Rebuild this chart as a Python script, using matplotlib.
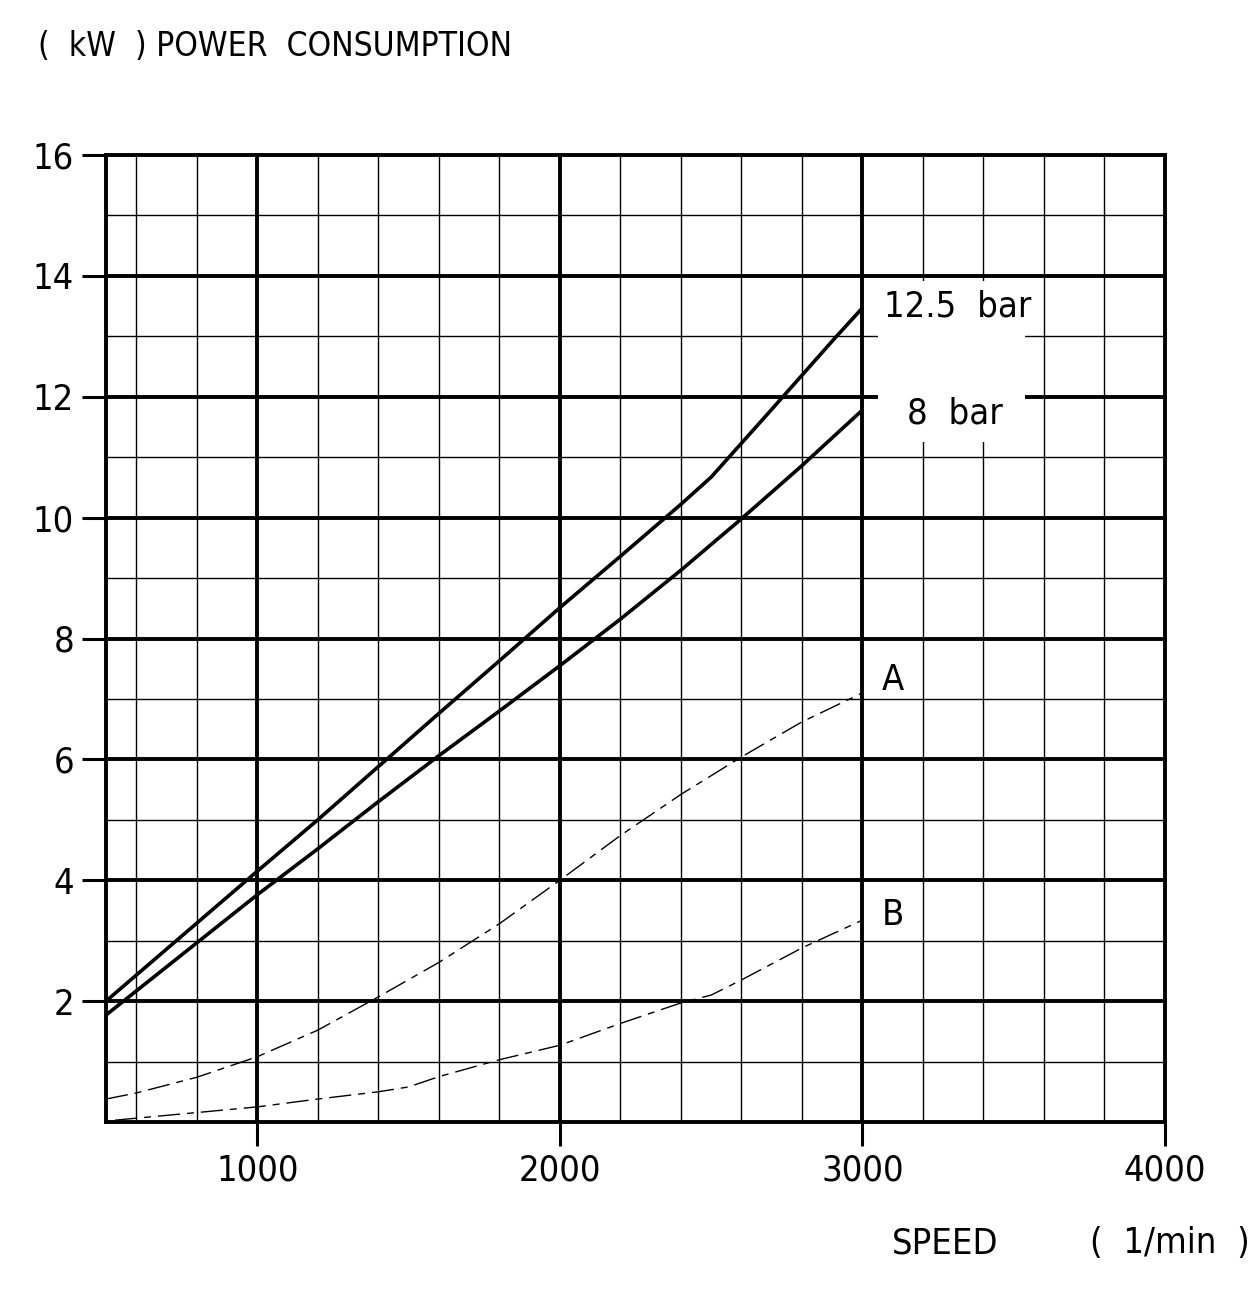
import matplotlib
matplotlib.use("Agg")
import matplotlib.pyplot as plt
from matplotlib.patches import Rectangle

plt.rcParams['font.family'] = ["DejaVu Sans"]
plt.rcParams['font.stretch'] = "condensed"

# ---- data ----
speed_125 = [500, 1000, 1200, 1400, 1600, 1800, 2000, 2200, 2400, 2500, 2700, 2900, 3000]
power_125 = [2.0, 4.15, 5.0, 5.88, 6.76, 7.63, 8.51, 9.36, 10.22, 10.67, 11.79, 12.92, 13.47]

speed_8 = [500, 1000, 1200, 1400, 1600, 1800, 2000, 2200, 2400, 2600, 2800, 3000]
power_8 = [1.77, 3.76, 4.52, 5.3, 6.06, 6.8, 7.55, 8.32, 9.13, 9.98, 10.86, 11.78]

speed_A = [500, 600, 800, 1000, 1200, 1400, 1600, 1800, 2000, 2200, 2400, 2600, 2800, 3000]
power_A = [0.38, 0.48, 0.74, 1.08, 1.52, 2.07, 2.64, 3.28, 4.0, 4.74, 5.42, 6.04, 6.62, 7.1]

speed_B = [530, 1000, 1200, 1400, 1500, 1600, 1800, 2000, 2200, 2400, 2500, 2600, 2800, 3000]
power_B = [0.03, 0.25, 0.38, 0.5, 0.58, 0.75, 1.03, 1.27, 1.63, 1.97, 2.1, 2.35, 2.88, 3.34]

x_ticks = [1000, 2000, 3000, 4000]
y_ticks = [2, 4, 6, 8, 10, 12, 14, 16]
x_minor = [600, 800, 1200, 1400, 1600, 1800, 2200, 2400, 2600, 2800, 3200, 3400, 3600, 3800]
y_minor = [1, 3, 5, 7, 9, 11, 13, 15]

curve_labels = ["12.5  bar", "8  bar", "A", "B"]
title = "(  kW  ) POWER  CONSUMPTION"
xlabel = "SPEED"
xunit = "(  1/min  )"

W, H = 1257, 1303
fig = plt.figure(figsize=(W / 100, H / 100), dpi=100)
ax = fig.add_axes([106 / W, 1 - 1122 / H, (1165 - 106) / W, (1122 - 155) / H])
ax.set_xlim(500, 4000)
ax.set_ylim(0, 16)

# grid
for xv in x_minor:
    ax.axvline(xv, color="black", lw=1.0, zorder=1)
for yv in y_minor:
    ax.axhline(yv, color="black", lw=1.0, zorder=1)
for xv in x_ticks[:-1]:
    ax.axvline(xv, color="black", lw=2.8, zorder=2)
for yv in y_ticks[:-1]:
    ax.axhline(yv, color="black", lw=2.8, zorder=2)

# white label box
ax.add_patch(Rectangle((3053, 11.25), 484, 2.66, facecolor="white", edgecolor="none", zorder=3))

for sp in ax.spines.values():
    sp.set_linewidth(2.8)
    sp.set_zorder(4)

ax.plot(speed_125, power_125, color="black", lw=2.6, zorder=5, solid_capstyle="butt")
ax.plot(speed_8, power_8, color="black", lw=2.6, zorder=5, solid_capstyle="butt")
dash = (0, (16, 5, 5, 5))
ax.plot(speed_A, power_A, color="black", lw=1.0, ls=dash, zorder=5)
ax.plot(speed_B, power_B, color="black", lw=1.0, ls=dash, zorder=5)

fs = 26
ax.text(3070, 13.5, curve_labels[0], fontsize=fs, va="center", ha="left", zorder=6)
ax.text(3146, 11.73, curve_labels[1], fontsize=fs, va="center", ha="left", zorder=6)
ax.text(3063, 7.31, curve_labels[2], fontsize=fs, va="center", ha="left", zorder=6)
ax.text(3063, 3.42, curve_labels[3], fontsize=fs, va="center", ha="left", zorder=6)

ax.set_xticks(x_ticks)
ax.set_xticklabels([str(v) for v in x_ticks])
ax.set_yticks(y_ticks)
ax.set_yticklabels([str(v) for v in y_ticks])
ax.tick_params(axis="both", length=17, width=2.2, labelsize=fs, pad=6, direction="out")

fig.text(38 / W, 1 - 46 / H, title, fontsize=24, ha="left", va="center")
fig.text(945 / W, 1 - 1243 / H, xlabel, fontsize=fs, ha="center", va="center")
fig.text(1250 / W, 1 - 1243 / H, xunit, fontsize=fs, ha="right", va="center")

fig.savefig("out.png", dpi=100, facecolor="white")
